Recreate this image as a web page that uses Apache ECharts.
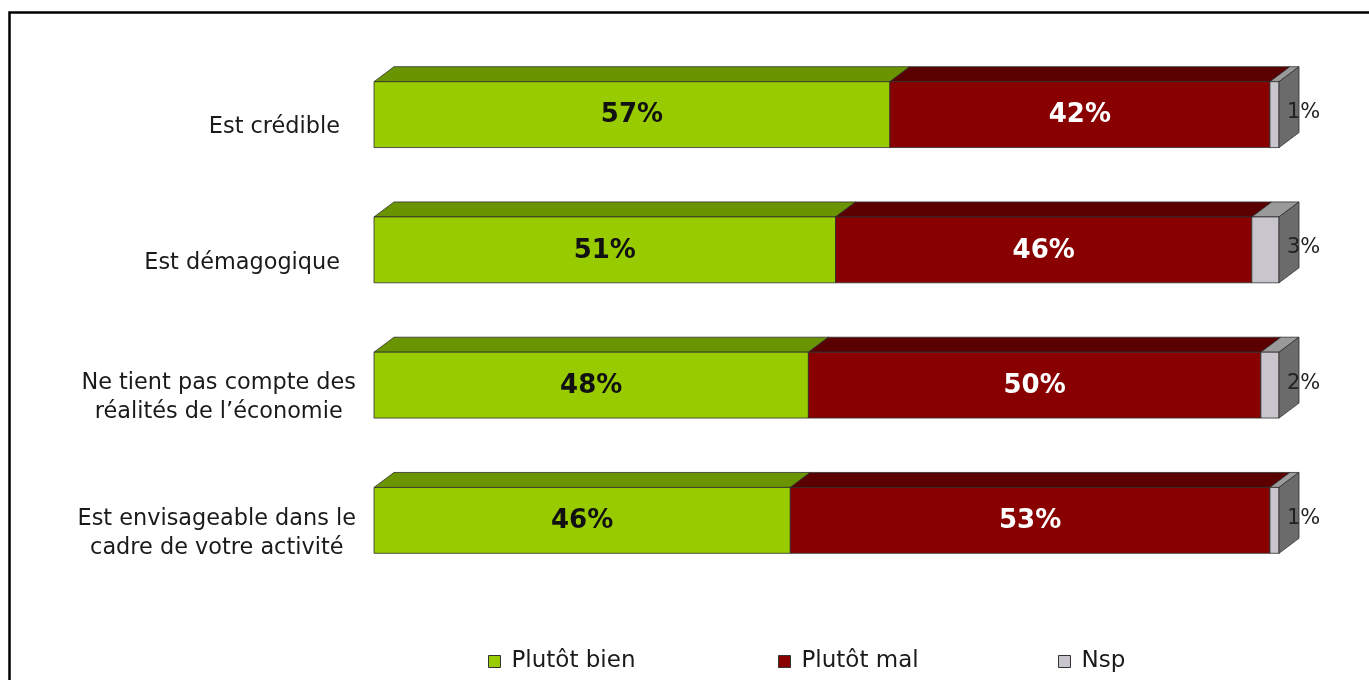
<!DOCTYPE html>
<html>
<head>
<meta charset="utf-8">
<script src="https://cdn.jsdelivr.net/npm/echarts@6/dist/echarts.min.js"></script>
<style>
  html, body { margin: 0; padding: 0; background: #fff; }
  #chart { width: 1369px; height: 680px; }
</style>
</head>
<body>
<div id="chart"></div>
<script>
// Survey answers, in percent, one entry per statement
const categories = [
  'Est crédible',
  'Est démagogique',
  'Ne tient pas compte des\nréalités de l’économie',
  'Est envisageable dans le\ncadre de votre activité'
];
const seriesNames = ['Plutôt bien', 'Plutôt mal', 'Nsp'];
const plutotBien = [57, 51, 48, 46];
const plutotMal = [42, 46, 50, 53];
const nsp = [1, 3, 2, 1];

const FONT = 'DejaVu Sans';
const DX = 20, DY = 15;           // depth of the extruded bars
const BAR_RATIO = 0.487;          // front face height relative to band

const palette = [
  { front: '#99CC00', top: '#6A9400', side: '#557700', label: '#111', inside: true },
  { front: '#880000', top: '#5A0000', side: '#400000', label: '#fff', inside: true },
  { front: '#C8C6CC', top: '#9A9A9A', side: '#6B6B6B', label: '#222', inside: false }
];

const valueSets = [plutotBien, plutotMal, nsp];

// stacked [categoryIndex, start, end, value] rows
function stackRows(k) {
  return categories.map((c, i) => {
    let start = 0;
    for (let j = 0; j < k; j++) start += valueSets[j][i];
    return [i, start, start + valueSets[k][i], valueSets[k][i]];
  });
}

function makeRender(k, isLast) {
  const col = palette[k];
  return function (params, api) {
    const cat = api.value(0);
    const p0 = api.coord([api.value(1), cat]);
    const p1 = api.coord([api.value(2), cat]);
    const h = api.size([0, 1])[1] * BAR_RATIO;
    const x0 = p0[0], x1 = p1[0];
    const y0 = p0[1] - h / 2, y1 = p0[1] + h / 2;
    const stroke = { stroke: '#2e2e2e', lineWidth: 0.8 };
    const children = [
      {
        type: 'polygon',
        shape: { points: [[x0, y0], [x1, y0], [x1 + DX, y0 - DY], [x0 + DX, y0 - DY]] },
        style: Object.assign({ fill: col.top }, stroke)
      },
      {
        type: 'rect',
        shape: { x: x0, y: y0, width: x1 - x0, height: y1 - y0 },
        style: Object.assign({ fill: col.front }, stroke)
      }
    ];
    if (isLast) {
      children.push({
        type: 'polygon',
        shape: { points: [[x1, y0], [x1 + DX, y0 - DY], [x1 + DX, y1 - DY], [x1, y1]] },
        style: Object.assign({ fill: col.side }, stroke)
      });
    }
    const txt = api.value(3) + '%';
    if (col.inside) {
      children.push({
        type: 'text',
        style: {
          x: (x0 + x1) / 2, y: p0[1] + 1, text: txt,
          fill: col.label, font: 'bold 26px "' + FONT + '"',
          align: 'center', verticalAlign: 'middle'
        }
      });
    } else {
      children.push({
        type: 'text',
        style: {
          x: x1 + 8, y: p0[1] - 2, text: txt,
          fill: col.label, font: '21px "' + FONT + '"',
          align: 'left', verticalAlign: 'middle'
        }
      });
    }
    return { type: 'group', children: children };
  };
}

const series = seriesNames.map((name, k) => ({
  name: name,
  type: 'custom',
  renderItem: makeRender(k, k === seriesNames.length - 1),
  encode: { x: [1, 2], y: 0 },
  itemStyle: { color: palette[k].front },
  data: stackRows(k),
  clip: false,
  z: 2 + k
}));

const legendLeft = [483, 773, 1053];

const chart = echarts.init(document.getElementById('chart'), null, { renderer: 'canvas' });
chart.setOption({
  backgroundColor: '#ffffff',
  animation: false,
  textStyle: { fontFamily: FONT },
  graphic: [{
    type: 'rect',
    shape: { x: 9.5, y: 12.5, width: 2000, height: 2000 },
    style: { fill: 'none', stroke: '#000', lineWidth: 2.5 },
    silent: true
  }],
  grid: { left: 374, right: 90, top: 47, bottom: 92, containLabel: false },
  xAxis: {
    type: 'value', min: 0, max: 100, show: false
  },
  yAxis: {
    type: 'category',
    data: categories,
    inverse: true,
    axisLine: { show: false },
    axisTick: { show: false },
    splitLine: { show: false },
    axisLabel: {
      margin: 18,
      padding: [26, 0, 0, 0],
      formatter: function (v) {
        if (v.indexOf('\n') >= 0) {
          return v.split('\n').map(s => '{c|' + s + '}').join('\n');
        }
        return '{r|' + v + '}';
      },
      rich: {
        c: { align: 'center', fontFamily: FONT, fontSize: 22.4, lineHeight: 29, color: '#1a1a1a' },
        r: { fontFamily: FONT, fontSize: 22.4, lineHeight: 29, color: '#1a1a1a', padding: [0, 16, 0, 0] }
      }
    }
  },
  legend: seriesNames.map((name, k) => ({
    data: [name],
    left: legendLeft[k],
    top: 645,
    icon: 'rect',
    itemWidth: 12,
    itemHeight: 12,
    itemStyle: { borderColor: '#333', borderWidth: 1 },
    textStyle: { fontFamily: FONT, fontSize: 23, color: '#1a1a1a', padding: [0, 0, 0, 6] },
    selectedMode: false
  })),
  series: series
});
</script>
</body>
</html>
